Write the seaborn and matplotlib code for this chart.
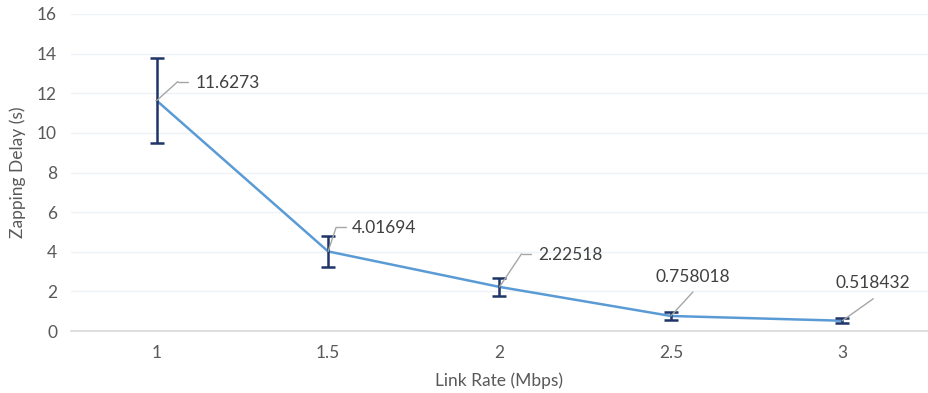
import matplotlib
matplotlib.use("Agg")
import matplotlib.pyplot as plt
import seaborn as sns
import pandas as pd

link_rate = ["1", "1.5", "2", "2.5", "3"]
delay = [11.6273, 4.01694, 2.22518, 0.758018, 0.518432]
delay_err = [2.15, 0.77, 0.45, 0.18, 0.12]
value_labels = ["11.6273", "4.01694", "2.22518", "0.758018", "0.518432"]

df = pd.DataFrame({"rate": link_rate, "delay": delay})

sns.set_theme(style="white")
plt.rcParams["font.family"] = ["Lato", "DejaVu Sans"]

fig = plt.figure(figsize=(9.29, 3.93), dpi=100)
ax = fig.add_axes([71 / 929, 1 - 331 / 393, (928 - 71) / 929, (331 - 14) / 393])

sns.lineplot(data=df, x="rate", y="delay", ax=ax, color="#5B9BD5", linewidth=1.8, sort=False)
xpos = list(range(len(link_rate)))
ax.errorbar(xpos, delay, yerr=delay_err, fmt="none", ecolor="#1F3468",
            elinewidth=1.8, capsize=5, capthick=1.8, zorder=3)

ax.set_xlim(-0.5, len(link_rate) - 0.5)
ax.set_ylim(0, 16)
ax.set_yticks(range(0, 17, 2))
ax.set_xticks(xpos)
ax.set_xticklabels(link_rate)
ax.grid(axis="y", color="#EEF2F7", linewidth=1)
ax.set_axisbelow(True)
for s in ["top", "right", "left"]:
    ax.spines[s].set_visible(False)
ax.spines["bottom"].set_color("#D9D9D9")
ax.spines["bottom"].set_linewidth(1.2)
ax.tick_params(axis="both", length=0, labelsize=12.5, colors="#595959")
ax.tick_params(axis="x", pad=10)
ax.tick_params(axis="y", pad=10)
ax.set_xlabel("Link Rate (Mbps)", fontsize=12.5, color="#595959", labelpad=8)
ax.set_ylabel("Zapping Delay (s)", fontsize=12.5, color="#595959", labelpad=8)

# leader lines and labels: (elbow offset, horizontal end offset or None, text offset, ha)
specs = [
    ((21, 19), (31, 19), (39, 18), "left"),
    ((8, 24), (18, 24), (24, 23), "left"),
    ((22, 33), (31, 33), (39, 32), "left"),
    ((22, 24), None, (22, 39), "center"),
    ((31, 22), None, (31, 38), "center"),
]
lc = "#A6A6A6"
for i, (elbow, hend, tpos, ha) in enumerate(specs):
    pt = (xpos[i], delay[i])
    ax.annotate("", xy=pt, xytext=elbow, textcoords="offset pixels",
                arrowprops=dict(arrowstyle="-", color=lc, lw=1, shrinkA=0, shrinkB=0))
    if hend is not None:
        px, py = ax.transData.transform(pt)
        fig.add_artist(plt.Line2D([(px + elbow[0]) / fig.bbox.width, (px + hend[0]) / fig.bbox.width],
                                  [(py + elbow[1]) / fig.bbox.height, (py + hend[1]) / fig.bbox.height],
                                  color=lc, lw=1, transform=fig.transFigure))
    ax.annotate(value_labels[i], xy=pt, xytext=tpos, textcoords="offset pixels",
                ha=ha, va="center", fontsize=12.5, color="#404040")

fig.savefig("out.png", dpi=100)
